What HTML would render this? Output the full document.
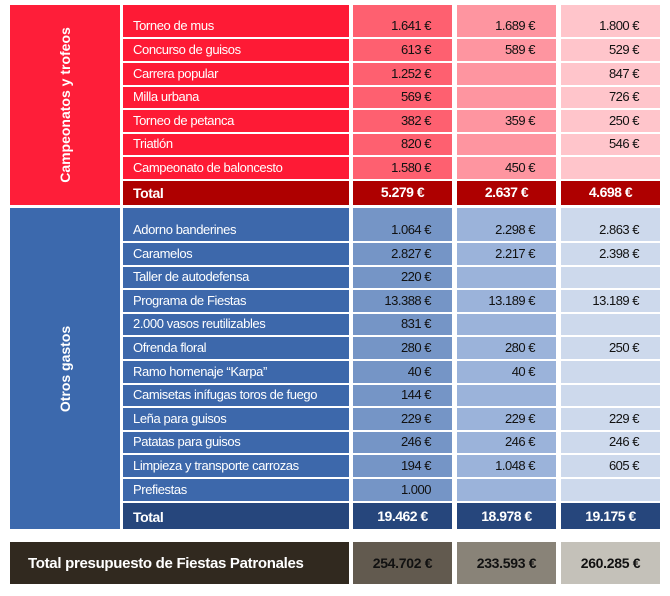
<!DOCTYPE html>
<html><head><meta charset="utf-8"><style>
body{margin:0;width:670px;height:596px;background:#fff;position:relative;overflow:hidden;font-family:"Liberation Sans",sans-serif;font-size:13px;color:#fff}
div{position:absolute;box-sizing:border-box}
.l{left:123px;width:226px;padding-left:10px;display:flex;align-items:flex-end;padding-bottom:4px;letter-spacing:-0.4px}
.v{text-align:right;padding-right:21px;color:#111;display:flex;align-items:flex-end;justify-content:flex-end;padding-bottom:4px;letter-spacing:-0.5px}
.c1{left:353px;width:99px}.c2{left:457px;width:99px}.c3{left:561px;width:99px}
.t{font-weight:bold;font-size:14px;color:#fff;justify-content:center;padding-right:0;padding-bottom:5px}
</style></head><body>
<!-- red -->
<div style="left:10px;top:5px;width:110px;height:200px;background:#fe1e39"></div>
<div style="left:10px;top:5px;width:110px;height:200px;display:flex;align-items:center;justify-content:center"><span style="transform:rotate(-90deg);white-space:nowrap;font-weight:bold;font-size:14px">Campeonatos y trofeos</span></div>
<div class="l" style="top:5px;height:32px;background:#fe1a35">Torneo de mus</div>
<div class="v c1" style="top:5px;height:32px;background:#fe6070">1.641 €</div>
<div class="v c2" style="top:5px;height:32px;background:#fe95a0">1.689 €</div>
<div class="v c3" style="top:5px;height:32px;background:#ffc5cb">1.800 €</div>

<div class="l" style="top:39px;height:22px;background:#fe1a35">Concurso de guisos</div>
<div class="v c1" style="top:39px;height:22px;background:#fe6070">613 €</div>
<div class="v c2" style="top:39px;height:22px;background:#fe95a0">589 €</div>
<div class="v c3" style="top:39px;height:22px;background:#ffc5cb">529 €</div>

<div class="l" style="top:63px;height:22px;background:#fe1a35">Carrera popular</div>
<div class="v c1" style="top:63px;height:22px;background:#fe6070">1.252 €</div>
<div class="v c2" style="top:63px;height:22px;background:#fe95a0"></div>
<div class="v c3" style="top:63px;height:22px;background:#ffc5cb">847 €</div>

<div class="l" style="top:87px;height:21px;background:#fe1a35">Milla urbana</div>
<div class="v c1" style="top:87px;height:21px;background:#fe6070">569 €</div>
<div class="v c2" style="top:87px;height:21px;background:#fe95a0"></div>
<div class="v c3" style="top:87px;height:21px;background:#ffc5cb">726 €</div>

<div class="l" style="top:110px;height:22px;background:#fe1a35">Torneo de petanca</div>
<div class="v c1" style="top:110px;height:22px;background:#fe6070">382 €</div>
<div class="v c2" style="top:110px;height:22px;background:#fe95a0">359 €</div>
<div class="v c3" style="top:110px;height:22px;background:#ffc5cb">250 €</div>

<div class="l" style="top:134px;height:21px;background:#fe1a35">Triatlón</div>
<div class="v c1" style="top:134px;height:21px;background:#fe6070">820 €</div>
<div class="v c2" style="top:134px;height:21px;background:#fe95a0"></div>
<div class="v c3" style="top:134px;height:21px;background:#ffc5cb">546 €</div>

<div class="l" style="top:157px;height:22px;background:#fe1a35">Campeonato de baloncesto</div>
<div class="v c1" style="top:157px;height:22px;background:#fe6070">1.580 €</div>
<div class="v c2" style="top:157px;height:22px;background:#fe95a0">450 €</div>
<div class="v c3" style="top:157px;height:22px;background:#ffc5cb"></div>

<div class="l" style="top:181px;height:24px;background:#ae0000;font-weight:bold;font-size:14px">Total</div>
<div class="v c1 t" style="top:181px;height:24px;background:#ae0000">5.279 €</div>
<div class="v c2 t" style="top:181px;height:24px;background:#ae0000">2.637 €</div>
<div class="v c3 t" style="top:181px;height:24px;background:#ae0000">4.698 €</div>

<!-- blue -->
<div style="left:10px;top:208px;width:110px;height:321px;background:#3c69ad"></div>
<div style="left:10px;top:208px;width:110px;height:321px;display:flex;align-items:center;justify-content:center"><span style="transform:rotate(-90deg);white-space:nowrap;font-weight:bold;font-size:14px">Otros gastos</span></div>

<div class="l" style="top:208px;height:33px;background:#3d68ab">Adorno banderines</div>
<div class="v c1" style="top:208px;height:33px;background:#7595c6">1.064 €</div>
<div class="v c2" style="top:208px;height:33px;background:#9bb3da">2.298 €</div>
<div class="v c3" style="top:208px;height:33px;background:#cdd9ec">2.863 €</div>

<div class="l" style="top:243px;height:22px;background:#3d68ab">Caramelos</div>
<div class="v c1" style="top:243px;height:22px;background:#7595c6">2.827 €</div>
<div class="v c2" style="top:243px;height:22px;background:#9bb3da">2.217 €</div>
<div class="v c3" style="top:243px;height:22px;background:#cdd9ec">2.398 €</div>

<div class="l" style="top:267px;height:21px;background:#3d68ab">Taller de autodefensa</div>
<div class="v c1" style="top:267px;height:21px;background:#7595c6">220 €</div>
<div class="v c2" style="top:267px;height:21px;background:#9bb3da"></div>
<div class="v c3" style="top:267px;height:21px;background:#cdd9ec"></div>

<div class="l" style="top:290px;height:22px;background:#3d68ab">Programa de Fiestas</div>
<div class="v c1" style="top:290px;height:22px;background:#7595c6">13.388 €</div>
<div class="v c2" style="top:290px;height:22px;background:#9bb3da">13.189 €</div>
<div class="v c3" style="top:290px;height:22px;background:#cdd9ec">13.189 €</div>

<div class="l" style="top:314px;height:21px;background:#3d68ab">2.000 vasos reutilizables</div>
<div class="v c1" style="top:314px;height:21px;background:#7595c6">831 €</div>
<div class="v c2" style="top:314px;height:21px;background:#9bb3da"></div>
<div class="v c3" style="top:314px;height:21px;background:#cdd9ec"></div>

<div class="l" style="top:337px;height:22px;background:#3d68ab">Ofrenda floral</div>
<div class="v c1" style="top:337px;height:22px;background:#7595c6">280 €</div>
<div class="v c2" style="top:337px;height:22px;background:#9bb3da">280 €</div>
<div class="v c3" style="top:337px;height:22px;background:#cdd9ec">250 €</div>

<div class="l" style="top:361px;height:22px;background:#3d68ab">Ramo homenaje “Karpa”</div>
<div class="v c1" style="top:361px;height:22px;background:#7595c6">40 €</div>
<div class="v c2" style="top:361px;height:22px;background:#9bb3da">40 €</div>
<div class="v c3" style="top:361px;height:22px;background:#cdd9ec"></div>

<div class="l" style="top:385px;height:21px;background:#3d68ab">Camisetas inífugas toros de fuego</div>
<div class="v c1" style="top:385px;height:21px;background:#7595c6">144 €</div>
<div class="v c2" style="top:385px;height:21px;background:#9bb3da"></div>
<div class="v c3" style="top:385px;height:21px;background:#cdd9ec"></div>

<div class="l" style="top:408px;height:22px;background:#3d68ab">Leña para guisos</div>
<div class="v c1" style="top:408px;height:22px;background:#7595c6">229 €</div>
<div class="v c2" style="top:408px;height:22px;background:#9bb3da">229 €</div>
<div class="v c3" style="top:408px;height:22px;background:#cdd9ec">229 €</div>

<div class="l" style="top:432px;height:21px;background:#3d68ab">Patatas para guisos</div>
<div class="v c1" style="top:432px;height:21px;background:#7595c6">246 €</div>
<div class="v c2" style="top:432px;height:21px;background:#9bb3da">246 €</div>
<div class="v c3" style="top:432px;height:21px;background:#cdd9ec">246 €</div>

<div class="l" style="top:455px;height:22px;background:#3d68ab">Limpieza y transporte carrozas</div>
<div class="v c1" style="top:455px;height:22px;background:#7595c6">194 €</div>
<div class="v c2" style="top:455px;height:22px;background:#9bb3da">1.048 €</div>
<div class="v c3" style="top:455px;height:22px;background:#cdd9ec">605 €</div>

<div class="l" style="top:479px;height:22px;background:#3d68ab">Prefiestas</div>
<div class="v c1" style="top:479px;height:22px;background:#7595c6">1.000</div>
<div class="v c2" style="top:479px;height:22px;background:#9bb3da"></div>
<div class="v c3" style="top:479px;height:22px;background:#cdd9ec"></div>

<div class="l" style="top:503px;height:26px;background:#26467c;font-weight:bold;font-size:14px">Total</div>
<div class="v c1 t" style="top:503px;height:26px;background:#26467c">19.462 €</div>
<div class="v c2 t" style="top:503px;height:26px;background:#26467c">18.978 €</div>
<div class="v c3 t" style="top:503px;height:26px;background:#26467c">19.175 €</div>

<!-- bottom -->
<div style="left:10px;top:542px;width:339px;height:42px;background:#31291f;display:flex;align-items:center;padding-left:18px;font-weight:bold;font-size:15px;letter-spacing:-0.3px">Total presupuesto de Fiestas Patronales</div>
<div class="c1" style="top:542px;height:42px;background:#625a4f;color:#111;font-weight:bold;font-size:14px;display:flex;align-items:center;justify-content:center;letter-spacing:-0.3px">254.702 €</div>
<div class="c2" style="top:542px;height:42px;background:#898378;color:#111;font-weight:bold;font-size:14px;display:flex;align-items:center;justify-content:center;letter-spacing:-0.3px">233.593 €</div>
<div class="c3" style="top:542px;height:42px;background:#c4c1b9;color:#111;font-weight:bold;font-size:14px;display:flex;align-items:center;justify-content:center;letter-spacing:-0.3px">260.285 €</div>
</body></html>
